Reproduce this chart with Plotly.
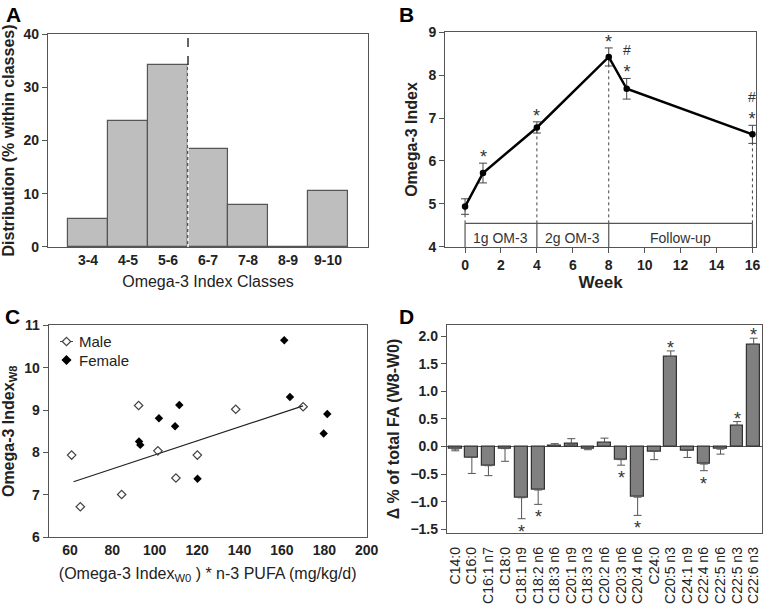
import plotly.graph_objects as go

FONT = "Liberation Sans, Arial, sans-serif"
AX = "#555555"

# ---------------- Panel A data ----------------
a_classes = ["3-4", "4-5", "5-6", "6-7", "7-8", "8-9", "9-10"]
a_dist = [5.3, 23.7, 34.2, 18.4, 7.9, 0.0, 10.5]
a_cut_class = "5-6"  # dashed line at the upper edge of this class

# ---------------- Panel B data ----------------
b_week = [0, 1, 4, 8, 9, 16]
b_index = [4.94, 5.72, 6.78, 8.42, 7.68, 6.62]
b_err = [0.18, 0.23, 0.13, 0.21, 0.24, 0.21]
b_marks = ["", "*", "*", "*", "#*", "#*"]
b_phase_start = [0, 4, 8]
b_phase_end = [4, 8, 16]
b_phase_label = ["1g OM-3", "2g OM-3", "Follow-up"]
b_phase_box_top = 4.55
b_guides = [0, 4, 8, 16]

# ---------------- Panel C data ----------------
c_male_x = [60.8, 64.9, 84.4, 92.4, 101.5, 110.0, 120.1, 138.2, 170.0]
c_male_y = [7.94, 6.72, 7.01, 9.11, 8.04, 7.40, 7.94, 9.02, 9.08]
c_female_x = [161.1, 163.8, 111.6, 102.0, 109.6, 92.6, 93.2, 120.2, 179.7, 181.4]
c_female_y = [10.65, 9.31, 9.12, 8.81, 8.62, 8.26, 8.18, 7.38, 8.45, 8.91]
c_fit_x = [61.7, 170.0]
c_fit_y = [7.31, 9.10]
c_legend_names = ["Male", "Female"]

# ---------------- Panel D data ----------------
d_fa = ["C14:0", "C16:0", "C16:1 n7", "C18:0", "C18:1 n9", "C18:2 n6", "C18:3 n6",
        "C20:1 n9", "C18:3 n3", "C20:2 n6", "C20:3 n6", "C20:4 n6", "C24:0", "C20:5 n3",
        "C24:1 n9", "C22:4 n6", "C22:5 n6", "C22:5 n3", "C22:6 n3"]
d_delta = [-0.05, -0.20, -0.35, -0.04, -0.93, -0.79, 0.02, 0.04, -0.04, 0.07,
           -0.24, -0.92, -0.09, 1.63, -0.07, -0.32, -0.05, 0.38, 1.85]
d_err = [0.03, 0.29, 0.18, 0.23, 0.38, 0.26, 0.03, 0.10, 0.02, 0.08,
         0.10, 0.33, 0.15, 0.10, 0.13, 0.12, 0.09, 0.07, 0.11]
d_sig = [False, False, False, False, True, True, False, False, False, False,
         True, True, False, True, False, True, False, True, True]

W, H = 772, 604
fig = go.Figure()

# ---- A ----
fig.add_trace(go.Bar(x=a_classes, y=a_dist, xaxis="x", yaxis="y", width=1.0,
                     marker=dict(color="#bebebe", line=dict(color=AX, width=1.2)),
                     showlegend=False, hoverinfo="skip"))
cut_x = a_classes.index(a_cut_class) + 0.5
cut_top = a_dist[a_classes.index(a_cut_class)]

# ---- B ----
fig.add_trace(go.Scatter(x=b_week, y=b_index, xaxis="x2", yaxis="y2", mode="lines+markers",
                         line=dict(color="black", width=2.5),
                         marker=dict(color="black", size=6.5),
                         error_y=dict(type="data", array=b_err, color="#444", thickness=1, width=4),
                         showlegend=False))

# ---- C ----
fig.add_trace(go.Scatter(x=c_fit_x, y=c_fit_y, xaxis="x3", yaxis="y3", mode="lines",
                         line=dict(color="#222", width=1.2), showlegend=False))
male_marker = dict(symbol="diamond-open", size=6.5, color="#444", line=dict(width=1.2))
female_marker = dict(symbol="diamond", size=6.5, color="black")
fig.add_trace(go.Scatter(x=c_male_x, y=c_male_y, xaxis="x3", yaxis="y3", mode="markers",
                         marker=male_marker, showlegend=False))
fig.add_trace(go.Scatter(x=c_female_x, y=c_female_y, xaxis="x3", yaxis="y3", mode="markers",
                         marker=female_marker, showlegend=False))

# legend key for panel C (positions in page pixels, converted to paper fractions)
LEG_SYM_X, LEG_TXT_X, LEG_Y0, LEG_DY = 66.5, 76.5, 341.5, 18.5

# ---- D ----
d_plus = [e if v >= 0 else 0 for v, e in zip(d_delta, d_err)]
d_minus = [e if v < 0 else 0 for v, e in zip(d_delta, d_err)]
fig.add_trace(go.Bar(x=d_fa, y=d_delta, xaxis="x4", yaxis="y4", width=0.77,
                     marker=dict(color="#808080", line=dict(color="#333", width=1.2)),
                     error_y=dict(type="data", symmetric=False, array=d_plus, arrayminus=d_minus,
                                  color="#555", thickness=1, width=4),
                     showlegend=False))

shapes = []
# A reference line
shapes.append(dict(type="line", xref="x", yref="y", x0=cut_x, x1=cut_x, y0=cut_top, y1=40,
                   line=dict(color="#333", width=1.5, dash="dash")))
shapes.append(dict(type="line", xref="x", yref="y", x0=cut_x, x1=cut_x, y0=0, y1=cut_top,
                   line=dict(color="white", width=1.5, dash="dot")))
# B phase box
shapes.append(dict(type="line", xref="x2", yref="y2", x0=b_phase_start[0], x1=b_phase_end[-1],
                   y0=b_phase_box_top, y1=b_phase_box_top, line=dict(color=AX, width=1.2)))
for xv in b_phase_start + [b_phase_end[-1]]:
    shapes.append(dict(type="line", xref="x2", yref="y2", x0=xv, x1=xv, y0=4, y1=b_phase_box_top,
                       line=dict(color=AX, width=1.2)))
for xv in b_guides:
    yv = b_index[b_week.index(xv)]
    shapes.append(dict(type="line", xref="x2", yref="y2", x0=xv, x1=xv, y0=b_phase_box_top, y1=yv,
                       line=dict(color="#444", width=1, dash="dot"), layer="below"))

# C legend key symbols (paper coordinates)
def px_x(v):
    return v / W

def px_y(v):
    return 1 - v / H

shapes.append(dict(type="line", xref="paper", yref="paper", x0=px_x(LEG_SYM_X - 6.5), x1=px_x(LEG_SYM_X + 6.5),
                   y0=px_y(LEG_Y0), y1=px_y(LEG_Y0), line=dict(color="#444", width=1)))
for i, filled in enumerate([False, True]):
    cy = LEG_Y0 + i * LEG_DY
    r = 4.2
    path = (f"M {px_x(LEG_SYM_X)},{px_y(cy - r)} L {px_x(LEG_SYM_X + r)},{px_y(cy)} "
            f"L {px_x(LEG_SYM_X)},{px_y(cy + r)} L {px_x(LEG_SYM_X - r)},{px_y(cy)} Z")
    shapes.append(dict(type="path", xref="paper", yref="paper", path=path,
                       fillcolor="black" if filled else "white",
                       line=dict(color="black" if filled else "#444", width=1.2)))

annotations = []
# panel letters
for letter, px, py in [("A", 4, 1), ("B", 397, 1), ("C", 3, 303), ("D", 397, 303)]:
    annotations.append(dict(text=f"<b>{letter}</b>", xref="paper", yref="paper",
                            x=px / W, y=1 - py / H, xanchor="left", yanchor="top",
                            showarrow=False, font=dict(size=21, color="black", family=FONT)))
# C legend text
for i, name in enumerate(c_legend_names):
    annotations.append(dict(text=name, xref="paper", yref="paper", x=px_x(LEG_TXT_X),
                            y=px_y(LEG_Y0 + i * LEG_DY), xanchor="left", yanchor="middle",
                            showarrow=False, font=dict(size=15, color="#222", family=FONT)))
# B phase labels
for s, e, lab in zip(b_phase_start, b_phase_end, b_phase_label):
    annotations.append(dict(text=lab, xref="x2", yref="y2", x=(s + e) / 2, y=4.22,
                            showarrow=False, font=dict(size=14, color="#333", family=FONT)))
# B significance marks
for xv, yv, ev, m in zip(b_week, b_index, b_err, b_marks):
    if m == "*":
        annotations.append(dict(text="*", xref="x2", yref="y2", x=xv, y=yv + ev, yanchor="bottom",
                                showarrow=False, yshift=-6, font=dict(size=18, color="#333", family=FONT)))
    elif m == "#*":
        annotations.append(dict(text="<span style='font-size:14px'>#</span><br>*", xref="x2", yref="y2",
                                x=xv, y=yv + ev, yanchor="bottom", showarrow=False, yshift=-6,
                                font=dict(size=18, color="#333", family=FONT)))
# D significance marks
for cat, v, e, s in zip(d_fa, d_delta, d_err, d_sig):
    if not s:
        continue
    if v >= 0:
        annotations.append(dict(text="*", xref="x4", yref="y4", x=cat, y=v + e, yanchor="bottom",
                                showarrow=False, yshift=-9, font=dict(size=18, color="#333", family=FONT)))
    else:
        annotations.append(dict(text="*", xref="x4", yref="y4", x=cat, y=v - e, yanchor="top",
                                showarrow=False, yshift=-1, font=dict(size=18, color="#333", family=FONT)))

TICKF = dict(size=14, color="#222", family=FONT, weight="bold")
TITLEF = dict(size=16, color="#222", family=FONT, weight="bold")
TITLEF_N = dict(size=16, color="#222", family=FONT)

def ax(domain, anchor, **kw):
    d = dict(domain=domain, anchor=anchor, showline=True, linecolor=AX, linewidth=1.3, mirror=True,
             showgrid=False, zeroline=False, ticks="outside", ticklen=5, tickcolor=AX, tickwidth=1.2,
             tickfont=TICKF, automargin=False)
    d.update(kw)
    return d

fig.update_layout(
    width=W, height=H, margin=dict(l=0, r=0, t=0, b=0),
    paper_bgcolor="white", plot_bgcolor="white", template="none",
    font=dict(family=FONT, color="#222"), bargap=0, showlegend=False,
    xaxis=ax([0.0622, 0.4767], "y", type="category", range=[-1, 7], ticks="",
             title=dict(text="Omega-3 Index Classes", font=TITLEF_N, standoff=8)),
    yaxis=ax([0.5911, 0.9437], "x", range=[0, 40], dtick=10,
             title=dict(text="Distribution (% within classes)", font=TITLEF, standoff=6)),
    xaxis2=ax([0.5768, 0.9793], "y2", range=[-1.1, 16.2], tickvals=list(range(0, 17, 2)),
              title=dict(text="Week", font=dict(size=17, color="#222", family=FONT, weight="bold"), standoff=2)),
    yaxis2=ax([0.5911, 0.9470], "x2", range=[4, 9], dtick=1,
              title=dict(text="Omega-3 Index", font=TITLEF, standoff=6)),
    xaxis3=ax([0.0631, 0.4750], "y3", range=[50, 200], tickvals=list(range(60, 201, 20)), ticks="",
              title=dict(text="(Omega-3 Index<sub>W0</sub> ) * n-3 PUFA (mg/kg/d)", font=TITLEF_N, standoff=10)),
    yaxis3=ax([0.1104, 0.4614], "x3", range=[6, 11], dtick=1,
              title=dict(text="Omega-3 Index<sub>W8</sub>", font=TITLEF, standoff=6)),
    xaxis4=ax([0.5790, 0.9870], "y4", type="category", range=[-0.5, 18.5], tickangle=-90,
              tickvals=d_fa, ticktext=d_fa, ticks="outside", ticklen=7, tickcolor="rgba(0,0,0,0)",
              tickfont=dict(size=14, color="#222", family=FONT)),
    yaxis4=ax([0.1170, 0.4624], "x4", range=[-1.575, 2.205], dtick=0.5, tickformat=".1f",
              zeroline=True, zerolinecolor=AX, zerolinewidth=1.2,
              title=dict(text="Δ % of total FA (W8-W0)", font=TITLEF, standoff=6)),
    shapes=shapes, annotations=annotations,
)

fig.write_html("out.html", config={"displayModeBar": False},
               post_script="document.body.style.margin='0px';document.body.style.padding='0px';")
